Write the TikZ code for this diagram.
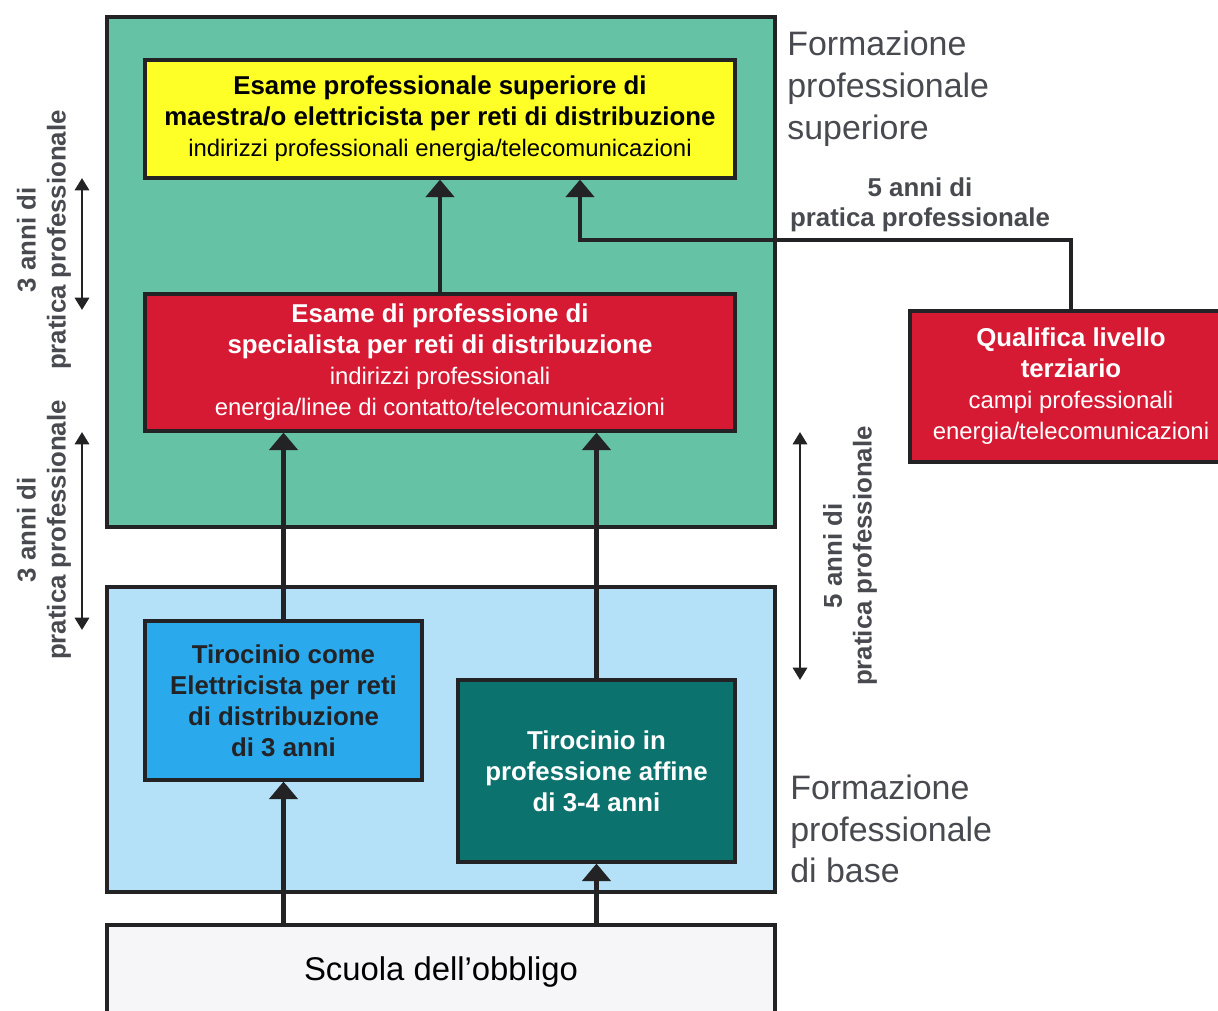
\documentclass[tikz,border=0pt]{standalone}
\usepackage{fontspec}
\setmainfont{Liberation Sans}
\usetikzlibrary{arrows.meta,positioning}
\definecolor{edge}{RGB}{35,35,38}
\definecolor{greenarea}{RGB}{102,194,164}
\definecolor{bluearea}{RGB}{180,225,247}
\definecolor{greyarea}{RGB}{246,246,248}
\definecolor{yellowbox}{RGB}{255,255,40}
\definecolor{redbox}{RGB}{214,26,52}
\definecolor{bluebox}{RGB}{42,170,236}
\definecolor{tealbox}{RGB}{12,114,110}
\definecolor{labeltext}{RGB}{72,74,80}
\newcommand{\thin}[1]{{\fontsize{13.6}{17}\selectfont\mdseries #1}}
\tikzset{%
	area/.style   = {draw=edge, line width=1.8pt, rectangle, inner sep=0pt}, % Stage
	box/.style    = {draw=edge, line width=1.8pt, rectangle, inner sep=0pt, align=center, font=\fontsize{14.7}{17.6}\selectfont\bfseries}, % Title
	arrow/.style  = {draw=edge, line width=2.8pt, -{Triangle[width=16pt,length=10pt]}},
	span/.style   = {draw=edge, line width=1.7pt, {Triangle[width=8pt,length=7pt]}-{Triangle[width=8pt,length=7pt]}},
	note/.style   = {align=center, text=labeltext, inner sep=0pt, font=\fontsize{14.7}{17}\selectfont\bfseries},
	stage/.style  = {align=left, anchor=west, text=labeltext, inner sep=0pt, font=\fontsize{19.3}{23.8}\selectfont},
}
\begin{document}
\begin{tikzpicture}[x=0.02cm,y=-0.02cm]
	\fill[white] (0,0) rectangle (1218,1011);
	\useasboundingbox (0,0) rectangle (1218,1011);

	\node [area,fill=greenarea,minimum width=13.36cm,minimum height=10.2cm] (sup) at (441,272) {};
	\node [area,fill=bluearea,minimum width=13.36cm,minimum height=6.1cm] (base) at (441,739.5) {};
	\node [area,fill=greyarea,minimum width=13.36cm,minimum height=1.88cm,font=\fontsize{18.7}{22}\selectfont] (scuola) at (441,972) {Scuola dell’obbligo};

	\node [box,fill=yellowbox,minimum width=11.8cm,minimum height=2.36cm] (esame) at (440,119)
		{Esame professionale superiore di\\maestra/o elettricista per reti di distribuzione\\\thin{indirizzi professionali energia/telecomunicazioni}};
	\node [box,fill=redbox,text=white,minimum width=11.8cm,minimum height=2.74cm] (spec) at (440,362.5)
		{Esame di professione di\\specialista per reti di distribuzione\\\thin{indirizzi professionali}\\\thin{energia/linee di contatto/telecomunicazioni}};
	\node [box,fill=redbox,text=white,minimum width=6.44cm,minimum height=3.02cm] (quali) at (1071,386.5)
		{Qualifica livello\\terziario\\\thin{campi professionali}\\\thin{energia/telecomunicazioni}};
	\node [box,fill=bluebox,text=edge,minimum width=5.54cm,minimum height=3.18cm] (tiroA) at (283.5,700.5)
		{Tirocinio come\\Elettricista per reti\\di distribuzione\\di 3 anni};
	\node [box,fill=tealbox,text=white,minimum width=5.54cm,minimum height=3.64cm] (tiroB) at (596.5,771)
		{Tirocinio in\\professione affine\\di 3-4 anni};

	\node [stage] (labsup) at (787,89) {Formazione\\professionale\\superiore};
	\node [stage] (labbase) at (790,829) {Formazione\\professionale\\di base};

	\node [note] (pratq) at (920,205) {5 anni di\\pratica professionale};
	\node [note,rotate=90] (pratl1) at (44,240) {3 anni di\\pratica professionale};
	\node [note,rotate=90] (pratl2) at (44,530) {3 anni di\\pratica professionale};
	\node [note,rotate=90] (pratr) at (850,556) {5 anni di\\pratica professionale};

	\coordinate (bend) at (580,240);
	\draw[arrow] (tiroA.south |- scuola.north) -- (tiroA.south);
	\draw[arrow] (tiroB.south |- scuola.north) -- (tiroB.south);
	\draw[arrow] (tiroA.north) -- (tiroA.north |- spec.south);
	\draw[arrow] (tiroB.north) -- (tiroB.north |- spec.south);
	\draw[arrow] (spec.north) -- (esame.south);
	\draw[arrow] (quali.north) |- (bend) -- (bend |- esame.south);

	\coordinate (l1a) at (82,178);
	\coordinate (l1b) at (82,310);
	\coordinate (l2a) at (82,432);
	\coordinate (l2b) at (82,630);
	\coordinate (ra) at (800,432);
	\coordinate (rb) at (800,680);
	\draw[span] (l1a) -- (l1b);
	\draw[span] (l2a) -- (l2b);
	\draw[span] (ra) -- (rb);
\end{tikzpicture}
\end{document}
